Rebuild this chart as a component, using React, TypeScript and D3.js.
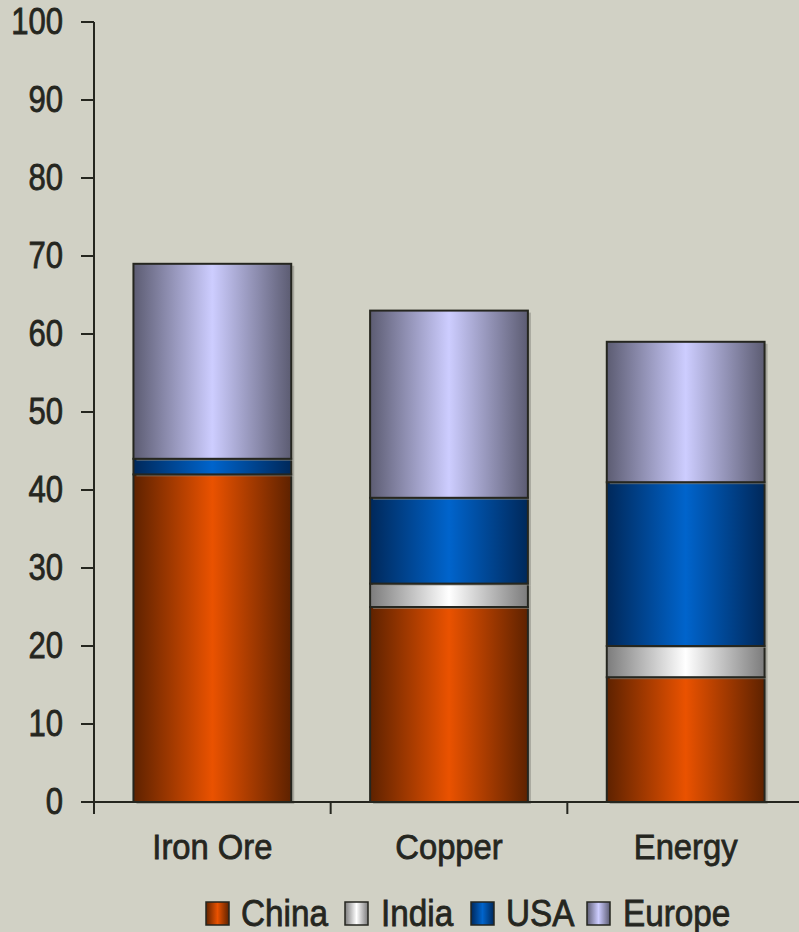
import React from "react";
import * as d3 from "d3";

const categories = ["Iron Ore", "Copper", "Energy"];
const seriesNames = ["China", "India", "USA", "Europe"];
const china = [42, 25, 16];
const india = [0, 3, 4];
const usa = [2, 11, 21];
const europe = [25, 24, 18];
const yTicks = [0, 10, 20, 30, 40, 50, 60, 70, 80, 90, 100];

const palette = [
  { edge: "#5e2200", mid: "#ea5200" },
  { edge: "#7c7c7c", mid: "#ffffff" },
  { edge: "#00285a", mid: "#0064cc" },
  { edge: "#5c5c72", mid: "#cdcdff" },
];

const W = 799;
const H = 932;
const font = "'Liberation Sans', Arial, sans-serif";
const ink = "#25261f";

function NarrowText({ x, y, anchor = "start", size, sx = 0.86, children }: any) {
  return (
    <g transform={`translate(${x},${y}) scale(${sx},1)`}>
      <text
        x={0}
        y={0}
        textAnchor={anchor}
        fontFamily={font}
        fontSize={size}
        fill={ink}
        stroke={ink}
        strokeWidth={0.8}
      >
        {children}
      </text>
    </g>
  );
}

export default function App() {
  const values = [china, india, usa, europe];
  const rows = categories.map((c, i) => {
    const r: any = { cat: c };
    seriesNames.forEach((s, k) => (r[s] = values[k][i]));
    return r;
  });
  const stacked = d3.stack().keys(seriesNames)(rows);

  const x = d3.scaleBand().domain(categories).range([94, 804]).paddingInner(1 / 3).paddingOuter(1 / 6);
  const y = d3.scaleLinear().domain([0, 100]).range([802, 22]);
  const step = x.step();

  const legendBox = [206, 345, 471, 587];
  const legendText = [241, 381, 506, 623];

  return (
    <svg width={W} height={H} style={{ display: "block", position: "absolute", left: 0, top: 0 }}>
      <defs>
        {palette.map((p, i) => (
          <linearGradient key={i} id={`g${i}`} x1="0" x2="1" y1="0" y2="0">
            <stop offset="0" stopColor={p.edge} />
            <stop offset="0.5" stopColor={p.mid} />
            <stop offset="1" stopColor={p.edge} />
          </linearGradient>
        ))}
      </defs>
      <rect width={W} height={H} fill="#d1d1c5" />
      {/* y axis */}
      <line x1={94} x2={94} y1={y(100)} y2={814} stroke={ink} strokeWidth={2} />
      {yTicks.map((t) => (
        <g key={t}>
          <line x1={81} x2={94} y1={y(t)} y2={y(t)} stroke={ink} strokeWidth={2} />
          <NarrowText x={63} y={y(t) + 12} anchor="end" size={37} sx={0.84}>
            {t}
          </NarrowText>
        </g>
      ))}
      {/* stacked bars */}
      {stacked.map((layer, k) =>
        layer.map((d, i) => {
          const h = y(d[0]) - y(d[1]);
          if (h <= 0) return null;
          const bx = x(categories[i])!;
          return (
            <g key={`${k}-${i}`}>
              <rect x={bx + 3} y={y(d[1]) + 2} width={x.bandwidth()} height={h} fill="#8a8a82" opacity={0.6} />
              <rect x={bx} y={y(d[1])} width={x.bandwidth()} height={h} fill={`url(#g${k})`} stroke={ink} strokeWidth={2} />
            </g>
          );
        })
      )}
      {/* x axis */}
      <line x1={81} x2={W} y1={802} y2={802} stroke={ink} strokeWidth={2} />
      {categories.map((c, i) => (
        <line key={c} x1={94 + step * i} x2={94 + step * i} y1={802} y2={814} stroke={ink} strokeWidth={2} />
      ))}
      {categories.map((c) => (
        <NarrowText key={c} x={x(c)! + x.bandwidth() / 2} y={859} anchor="middle" size={36} sx={0.91}>
          {c}
        </NarrowText>
      ))}
      {/* legend */}
      {seriesNames.map((s, k) => (
        <g key={s}>
          <rect x={legendBox[k]} y={902} width={23} height={23} fill={`url(#g${k})`} stroke={ink} strokeWidth={1.5} />
          <NarrowText x={legendText[k]} y={926} size={37} sx={0.9}>
            {s}
          </NarrowText>
        </g>
      ))}
    </svg>
  );
}
